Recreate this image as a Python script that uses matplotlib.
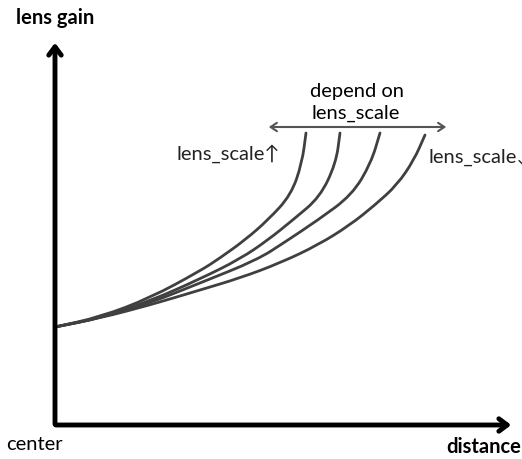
import numpy as np
import matplotlib
matplotlib.use("Agg")
import matplotlib.pyplot as plt
from matplotlib.path import Path
from matplotlib.patches import PathPatch

plt.rcParams['font.family'] = ['Lato', 'DejaVu Sans']

# curve points (pixel coords, y down)
curve1_x = [55, 100, 150, 200, 220, 245, 268, 291, 302, 306]
curve1_y = [327, 317, 298, 271, 258, 240, 220, 195, 163, 133]
curve2_x = [55, 100, 150, 200, 240, 268, 294, 320, 336, 340]
curve2_y = [327, 318, 301, 279, 259, 240, 219, 197, 163, 133]
curve3_x = [55, 100, 150, 200, 257, 285, 318, 352, 371, 380]
curve3_y = [327, 318, 303, 283, 260, 242, 220, 195, 163, 133]
curve4_x = [55, 100, 150, 200, 240, 280, 318, 350, 375, 397, 414, 425]
curve4_y = [327, 318, 305, 290, 278, 263, 245, 225, 205, 185, 160, 135]
curves = [(curve1_x, curve1_y), (curve2_x, curve2_y),
          (curve3_x, curve3_y), (curve4_x, curve4_y)]

fs = 14.5


def smooth_path(xs, ys):
    # quadratic bezier through the midpoints, control at the read points
    pts = np.column_stack([xs, ys]).astype(float)
    verts = [pts[0]]
    codes = [Path.MOVETO]
    verts.append((pts[0] + pts[1]) / 2)
    codes.append(Path.LINETO)
    for i in range(1, len(pts) - 1):
        verts += [pts[i], (pts[i] + pts[i + 1]) / 2]
        codes += [Path.CURVE3, Path.CURVE3]
    verts.append(pts[-1])
    codes.append(Path.LINETO)
    return Path(verts, codes)


fig = plt.figure(figsize=(5.22, 4.59), dpi=100)
ax = fig.add_axes([0, 0, 1, 1])
ax.set_xlim(0, 522)
ax.set_ylim(459, 0)
ax.axis('off')

for cx, cy in curves:
    ax.add_patch(PathPatch(smooth_path(cx, cy), facecolor='none',
                           edgecolor='#404040', lw=2, capstyle='round'))

# axes with arrows
ax.annotate('', xy=(55, 40), xytext=(55, 427),
            arrowprops=dict(arrowstyle='->,head_length=0.6,head_width=0.45', lw=3.5, color='black'))
ax.annotate('', xy=(514, 425), xytext=(53, 425),
            arrowprops=dict(arrowstyle='->,head_length=0.6,head_width=0.45', lw=3.5, color='black'))

# double arrow
ax.annotate('', xy=(266, 127), xytext=(449, 127),
            arrowprops=dict(arrowstyle='<->,head_length=0.45,head_width=0.3', lw=1.5, color='#555555'))

ax.text(55, 18, 'lens gain', ha='center', va='center', fontsize=fs, fontweight='bold')
ax.text(6, 445, 'center', ha='left', va='center', fontsize=fs)
ax.text(521, 447, 'distance', ha='right', va='center', fontsize=fs, fontweight='bold')
ax.text(357, 91, 'depend on', ha='center', va='center', fontsize=fs)
ax.text(356, 113, 'lens_scale', ha='center', va='center', fontsize=fs)
ax.text(177, 154, 'lens_scale↑', ha='left', va='center', fontsize=fs, color='#222222')
# as in the reference, the arrow of this label runs off the right edge
ax.text(428, 157, 'lens_scale↓', ha='left', va='center', fontsize=fs, color='#222222')

fig.savefig('out.png', dpi=100)
